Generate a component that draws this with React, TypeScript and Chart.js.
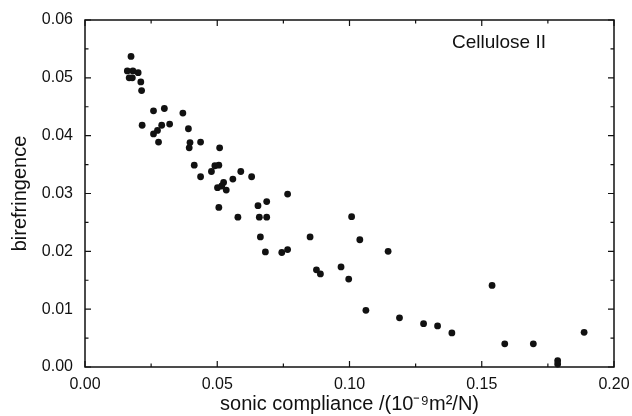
import React, { useEffect, useRef } from "react";
import { Chart, registerables } from "chart.js";

Chart.register(...registerables);

const compliance: number[] = [
  0.0174, 0.016, 0.0181, 0.0201, 0.0167, 0.0179, 0.0211, 0.0214, 0.0259, 0.03,
  0.037, 0.0216, 0.032, 0.029, 0.0274, 0.0259, 0.0278, 0.0391, 0.0397, 0.0394,
  0.0437, 0.0509, 0.0413, 0.0437, 0.0478, 0.0491, 0.0506, 0.0559, 0.0589, 0.063,
  0.0501, 0.0524, 0.0517, 0.0534, 0.0506, 0.0578, 0.0654, 0.0687, 0.0659, 0.0687,
  0.0663, 0.0682, 0.0766, 0.0851, 0.0744, 0.0766, 0.0875, 0.089, 0.1008, 0.1039,
  0.0968, 0.0997, 0.1146, 0.1062, 0.1189, 0.128, 0.1333, 0.1387, 0.1539, 0.1587,
  0.1695, 0.1787, 0.1787, 0.1887,
];
const birefringence: number[] = [
  0.0537, 0.0512, 0.0512, 0.0509, 0.05, 0.05, 0.0493, 0.0478, 0.0443, 0.0447,
  0.0439, 0.0418, 0.042, 0.0418, 0.0409, 0.0403, 0.0389, 0.0412, 0.0388, 0.0379,
  0.0389, 0.0379, 0.0349, 0.0329, 0.0338, 0.0348, 0.0349, 0.0325, 0.0338, 0.0329,
  0.031, 0.0319, 0.0313, 0.0306, 0.0276, 0.0259, 0.0279, 0.0286, 0.0259, 0.0259,
  0.0225, 0.0199, 0.0299, 0.0225, 0.0198, 0.0203, 0.0168, 0.0161, 0.026, 0.022,
  0.0173, 0.0152, 0.02, 0.0098, 0.0085, 0.0075, 0.0071, 0.0059, 0.0141, 0.004,
  0.004, 0.0011, 0.0005, 0.006,
];

const seriesLabel = "Cellulose II";
const xTitle = "sonic compliance /(10\u207B\u2079m\u00B2/N)";
const yTitle = "birefringence";
const xRange = [0, 0.2];
const yRange = [0, 0.06];
const xStep = 0.05;
const yStep = 0.01;

const FONT = "'Liberation Sans', Arial, sans-serif";
const INK = "#111";

const framePlugin = {
  id: "frameTicks",
  afterDraw(chart: any) {
    const { ctx, chartArea, scales } = chart;
    const { left, right, top, bottom } = chartArea;
    ctx.save();
    ctx.strokeStyle = INK;
    ctx.lineWidth = 1.5;
    ctx.strokeRect(left, top, right - left, bottom - top);
    ctx.lineWidth = 1.2;
    const drawX = (v: number, len: number) => {
      const p = scales.x.getPixelForValue(v);
      ctx.beginPath();
      ctx.moveTo(p, bottom);
      ctx.lineTo(p, bottom - len);
      ctx.moveTo(p, top);
      ctx.lineTo(p, top + len);
      ctx.stroke();
    };
    const drawY = (v: number, len: number) => {
      const p = scales.y.getPixelForValue(v);
      ctx.beginPath();
      ctx.moveTo(left, p);
      ctx.lineTo(left + len, p);
      ctx.moveTo(right, p);
      ctx.lineTo(right - len, p);
      ctx.stroke();
    };
    const xt = scales.x.ticks.map((t: any) => t.value);
    xt.forEach((v: number, i: number) => {
      drawX(v, 6);
      if (i < xt.length - 1) drawX((v + xt[i + 1]) / 2, 3.5);
    });
    const yt = scales.y.ticks.map((t: any) => t.value);
    yt.forEach((v: number, i: number) => {
      drawY(v, 6);
      if (i < yt.length - 1) drawY((v + yt[i + 1]) / 2, 3.5);
    });
    ctx.fillStyle = INK;
    ctx.font = `19px ${FONT}`;
    ctx.textAlign = "left";
    ctx.textBaseline = "alphabetic";
    ctx.fillText(seriesLabel, right - 162, top + 28);
    ctx.restore();
  },
};

export default function App() {
  const ref = useRef<HTMLCanvasElement | null>(null);
  useEffect(() => {
    document.body.style.margin = "0";
    const canvas = ref.current!;
    const chart = new Chart(canvas, {
      type: "scatter",
      data: {
        datasets: [
          {
            label: seriesLabel,
            data: compliance.map((x, i) => ({ x, y: birefringence[i] })),
            backgroundColor: INK,
            borderColor: INK,
            pointRadius: 3.4,
            pointBorderWidth: 0,
            clip: false as any,
          },
        ],
      },
      options: {
        animation: false,
        responsive: false,
        devicePixelRatio: 1,
        layout: { padding: { top: 20, right: 18, left: 0, bottom: 0 } },
        plugins: { legend: { display: false }, tooltip: { enabled: false } },
        scales: {
          x: {
            type: "linear",
            min: xRange[0],
            max: xRange[1],
            border: { display: false },
            grid: { display: false, drawTicks: false },
            ticks: {
              stepSize: xStep,
              color: INK,
              font: { family: FONT, size: 16 },
              padding: 8,
              maxRotation: 0,
              callback: (v: any) => Number(v).toFixed(2),
            },
            title: {
              display: true,
              text: xTitle,
              color: INK,
              font: { family: FONT, size: 20 },
              padding: { top: 0, bottom: 0 },
            },
            afterFit: (s: any) => {
              s.height = 49;
              s.paddingLeft = 0;
              s.paddingRight = 0;
            },
          },
          y: {
            type: "linear",
            min: yRange[0],
            max: yRange[1],
            border: { display: false },
            grid: { display: false, drawTicks: false },
            ticks: {
              stepSize: yStep,
              color: INK,
              font: { family: FONT, size: 16 },
              padding: 12,
              callback: (v: any) => Number(v).toFixed(2),
            },
            title: {
              display: true,
              text: yTitle,
              color: INK,
              font: { family: FONT, size: 20 },
              padding: { top: 8, bottom: 0 },
            },
            afterFit: (s: any) => {
              s.width = 85;
              s.paddingTop = 0;
              s.paddingBottom = 0;
            },
          },
        },
      },
      plugins: [framePlugin],
    });
    return () => chart.destroy();
  }, []);
  return (
    <div style={{ position: "absolute", left: 0, top: 0, width: 632, height: 416, background: "#fff" }}>
      <canvas ref={ref} width={632} height={416} style={{ display: "block" }} />
    </div>
  );
}
